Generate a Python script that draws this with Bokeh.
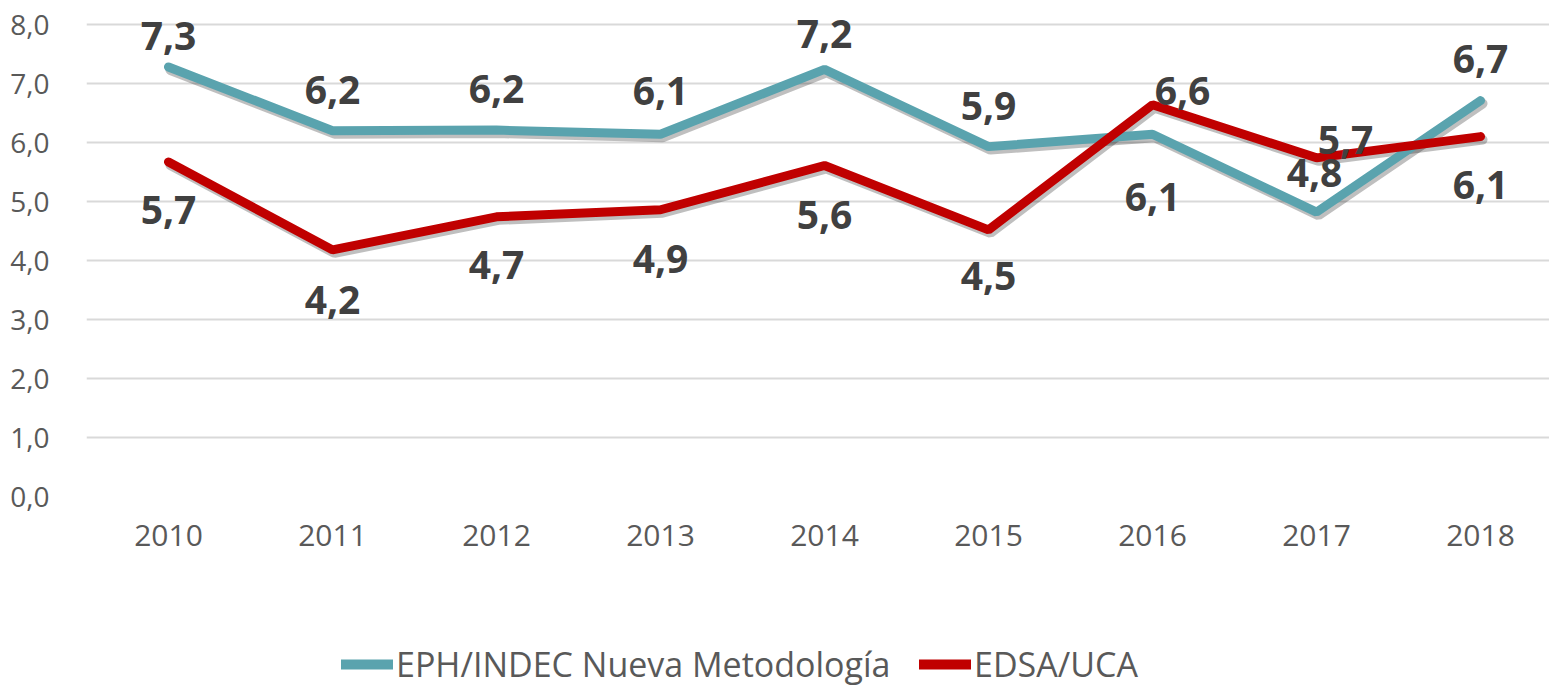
from bokeh.plotting import figure
from bokeh.layouts import column
from bokeh.models import (ColumnDataSource, Range1d, FixedTicker, Legend, LegendItem,
                          CustomJSTickFormatter)
from bokeh.core.properties import value
from bokeh.embed import file_html
from bokeh.resources import INLINE

# ---- data ----
years = ["2010", "2011", "2012", "2013", "2014", "2015", "2016", "2017", "2018"]
eph = [7.28, 6.20, 6.21, 6.14, 7.24, 5.93, 6.14, 4.82, 6.71]
edsa = [5.67, 4.18, 4.74, 4.86, 5.61, 4.52, 6.64, 5.74, 6.10]
series_names = ["EPH/INDEC Nueva Metodología", "EDSA/UCA"]
y_ticks = [0, 1, 2, 3, 4, 5, 6, 7, 8]

# label placement (screen px, relative to the point)
eph_dx = [0, 0, 0, 0, 0, 0, 0, -2, 0]
eph_dy = [-31, -41, -41, -43, -35, -41, 63, -39, -42]
edsa_dx = [0, 0, 0, 0, 0, 0, 30, 29, 0]
edsa_dy = [48, 50, 48, 49, 49, 46, -14, -18, 48]

TEAL = "#5AA3AE"
RED = "#C00000"
LABEL = "#404040"
AXIS = "#595959"
FONT = "Open Sans"

idx = list(range(len(years)))

def fmt(v):
    return f"{v:.1f}".replace(".", ",")

# geometry
W, H = 1549, 687
LEG_H = 70
PH = H - LEG_H
left, top_px, bottom_px = 86, 24, 496
px_x = 164.0   # px per category
px_y = 59.0    # px per unit
x0, x1 = -0.5, -0.5 + (W - left) / px_x
y0, y1 = 0.0, 8 + top_px / px_y

p = figure(width=W, height=PH, output_backend="svg", toolbar_location=None,
           x_range=Range1d(x0, x1), y_range=Range1d(y0, y1),
           min_border_left=left, min_border_right=0, min_border_top=0,
           min_border_bottom=PH - bottom_px)
p.outline_line_color = None
p.background_fill_color = "white"
p.border_fill_color = "white"

# shadow ranges (shifted a few px right/down)
sdx, sdy = 2 / px_x, 3 / px_y
p.extra_x_ranges = {"sh": Range1d(x0 - sdx, x1 - sdx)}
p.extra_y_ranges = {"sh": Range1d(y0 + sdy, y1 + sdy)}

p.xgrid.visible = False
p.ygrid.grid_line_color = "#D9D9D9"
p.ygrid.grid_line_width = 2
p.ygrid.ticker = FixedTicker(ticks=y_ticks)

p.yaxis.ticker = FixedTicker(ticks=y_ticks)
p.yaxis.formatter = CustomJSTickFormatter(code="return tick.toFixed(1).replace('.', ',');")
p.xaxis.ticker = FixedTicker(ticks=idx)
p.xaxis.formatter = CustomJSTickFormatter(args=dict(years=years),
                                          code="return years[Math.round(tick)];")
for ax in (p.xaxis, p.yaxis):
    ax.axis_line_color = None
    ax.major_tick_line_color = None
    ax.minor_tick_line_color = None
    ax.major_label_text_font = FONT
    ax.major_label_text_color = AXIS
p.xaxis.major_label_text_font_size = "30px"
p.yaxis.major_label_text_font_size = "28px"
p.yaxis.major_label_standoff = 31
p.xaxis.major_label_standoff = 22

src = ColumnDataSource(dict(x=idx, eph=eph, edsa=edsa,
                            eph_lab=[fmt(v) for v in eph], edsa_lab=[fmt(v) for v in edsa],
                            eph_dx=eph_dx, eph_dy=eph_dy, edsa_dx=edsa_dx, edsa_dy=edsa_dy))

# shadows
for col in ("eph", "edsa"):
    p.line("x", col, source=src, x_range_name="sh", y_range_name="sh",
           line_color="black", line_alpha=0.25, line_width=10, line_cap="round")

p.line("x", "eph", source=src, line_color=TEAL, line_width=9, line_cap="round")
p.line("x", "edsa", source=src, line_color=RED, line_width=9, line_cap="round")

for col in ("eph", "edsa"):
    p.text("x", col, text=f"{col}_lab", source=src, x_offset=f"{col}_dx", y_offset=f"{col}_dy",
           text_font=value(FONT), text_font_style="bold", text_font_size="39px",
           text_color=LABEL, text_align="center", text_baseline="alphabetic")

# ---- legend strip (own figure so that nothing is clipped) ----
p2 = figure(width=W, height=LEG_H, output_backend="svg", toolbar_location=None,
            x_range=Range1d(100, 101), y_range=Range1d(0, 1),
            x_axis_location=None, y_axis_location=None,
            min_border_left=0, min_border_right=0, min_border_top=0, min_border_bottom=0)
p2.outline_line_color = None
p2.grid.visible = False
g1 = p2.line("x", "eph", source=src, line_color=TEAL, line_width=10, line_cap="round")
g2 = p2.line("x", "edsa", source=src, line_color=RED, line_width=10, line_cap="round")

for name, r, xpos in ((series_names[0], g1, 255), (series_names[1], g2, 833)):
    lg = Legend(items=[LegendItem(label=name, renderers=[r])],
                location=(xpos, 0), orientation="horizontal",
                padding=0, margin=0, label_standoff=3,
                glyph_width=52, glyph_height=20,
                border_line_color=None, background_fill_alpha=0,
                label_text_font=FONT, label_text_font_size="34px", label_text_color=AXIS)
    p2.add_layout(lg, "center")

layout = column(p, p2, spacing=0)
open("out.html", "w").write(file_html(layout, INLINE))
